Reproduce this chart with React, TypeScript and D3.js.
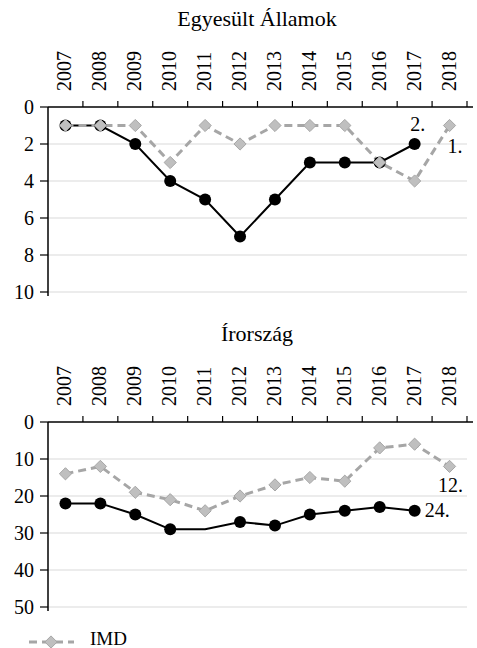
import React from 'react';
import * as d3 from 'd3';

const years = ['2007', '2008', '2009', '2010', '2011', '2012', '2013', '2014', '2015', '2016', '2017', '2018'];

// Egyesült Államok
const usRank = [1, 1, 2, 4, 5, 7, 5, 3, 3, 3, 2, null];
const usImd = [1, 1, 1, 3, 1, 2, 1, 1, 1, 3, 4, 1];
const usTicks = [0, 2, 4, 6, 8, 10];

// Írország
const ieRank = [22, 22, 25, 29, 29, 27, 28, 25, 24, 23, 24, null];
const ieImd = [14, 12, 19, 21, 24, 20, 17, 15, 16, 7, 6, 12];
const ieTicks = [0, 10, 20, 30, 40, 50];
const ieNoMarker = ['2011'];

const FONT = '"Liberation Serif", "DejaVu Serif", serif';
const GRAY = '#a6a6a6';

type Label = { series: 'rank' | 'imd'; year: string; text: string; dx: number; dy: number; anchor: string };

function Panel({ title, top, rank, imd, ticks, noMarker = [], labels }: {
  title: string; top: number; rank: (number | null)[]; imd: number[]; ticks: number[];
  noMarker?: string[]; labels: Label[];
}) {
  const left = 48;
  const right = 467;
  const y0 = top + 107;
  const y1 = top + 292;

  const x = d3.scaleBand<string>().domain(years).range([left, right]);
  const y = d3.scaleLinear().domain([0, ticks[ticks.length - 1]]).range([y0, y1]);
  const cx = (yr: string) => (x(yr) as number) + x.bandwidth() / 2;

  const rankPts = years.map((yr, i) => ({ yr, v: rank[i] })).filter(d => d.v != null) as { yr: string; v: number }[];
  const imdPts = years.map((yr, i) => ({ yr, v: imd[i] }));

  const line = d3.line<{ yr: string; v: number }>().x(d => cx(d.yr)).y(d => y(d.v));
  const diamond = d3.symbol().type(d3.symbolDiamond2).size(95)();

  const pos = (l: Label) => {
    const i = years.indexOf(l.year);
    const v = l.series === 'rank' ? (rank[i] as number) : imd[i];
    return { px: cx(l.year) + l.dx, py: y(v) + l.dy };
  };

  return (
    <g fontFamily={FONT}>
      <text x={257} y={top + 26} textAnchor="middle" fontSize={22}>{title}</text>
      {ticks.slice(1).map(t => (
        <line key={t} x1={left} x2={right} y1={y(t)} y2={y(t)} stroke="#d9d9d9" strokeWidth={1} />
      ))}
      {/* top category axis */}
      <line x1={left} x2={473} y1={y0} y2={y0} stroke="#000" strokeWidth={1.5} />
      {years.map(yr => (
        <line key={yr} x1={(x(yr) as number) + x.bandwidth()} x2={(x(yr) as number) + x.bandwidth()} y1={y0} y2={y0 - 6} stroke="#000" strokeWidth={1.2} />
      ))}
      {years.map(yr => (
        <text key={yr} transform={`translate(${cx(yr) + 6},${y0 - 16}) rotate(-90)`} fontSize={20}>{yr}</text>
      ))}
      {/* value axis */}
      <line x1={left} x2={left} y1={y0} y2={y1 + 4} stroke="#000" strokeWidth={1.5} />
      {ticks.map(t => (
        <g key={t}>
          <line x1={left - 8} x2={left} y1={y(t)} y2={y(t)} stroke="#000" strokeWidth={1.2} />
          <text x={34} y={y(t) + 7} textAnchor="end" fontSize={20}>{t}</text>
        </g>
      ))}
      <path d={line(rankPts) as string} fill="none" stroke="#000" strokeWidth={2} />
      <path d={line(imdPts) as string} fill="none" stroke={GRAY} strokeWidth={3} strokeDasharray="8,5" />
      {rankPts.filter(d => !noMarker.includes(d.yr)).map(d => (
        <circle key={d.yr} cx={cx(d.yr)} cy={y(d.v)} r={6} fill="#000" />
      ))}
      {imdPts.map(d => (
        <path key={d.yr} d={diamond as string} transform={`translate(${cx(d.yr)},${y(d.v)})`} fill="#bfbfbf" stroke={GRAY} strokeWidth={1} />
      ))}
      {labels.map(l => {
        const { px, py } = pos(l);
        return <text key={l.text} x={px} y={py} textAnchor={l.anchor as any} fontSize={20}>{l.text}</text>;
      })}
    </g>
  );
}

export default function App() {
  return (
    <svg width={477} height={648} style={{ position: 'absolute', left: 0, top: 0, background: '#fff' }}>
      <Panel title="Egyesült Államok" top={0} rank={usRank} imd={usImd} ticks={usTicks}
        labels={[
          { series: 'rank', year: '2017', text: '2.', dx: 3, dy: -13, anchor: 'middle' },
          { series: 'imd', year: '2018', text: '1.', dx: -2, dy: 27, anchor: 'start' },
        ]} />
      <Panel title="Írország" top={315} rank={ieRank} imd={ieImd} ticks={ieTicks} noMarker={ieNoMarker}
        labels={[
          { series: 'imd', year: '2018', text: '12.', dx: 1, dy: 26, anchor: 'middle' },
          { series: 'rank', year: '2017', text: '24.', dx: 10, dy: 6, anchor: 'start' },
        ]} />
      <g fontFamily={FONT}>
        <line x1={29} x2={74} y1={642} y2={642} stroke={GRAY} strokeWidth={3} strokeDasharray="8,5" />
        <path d={d3.symbol().type(d3.symbolDiamond2).size(95)() as string} transform="translate(51,642)" fill="#bfbfbf" stroke={GRAY} strokeWidth={1} />
        <text x={90} y={645} fontSize={19}>IMD</text>
      </g>
    </svg>
  );
}
